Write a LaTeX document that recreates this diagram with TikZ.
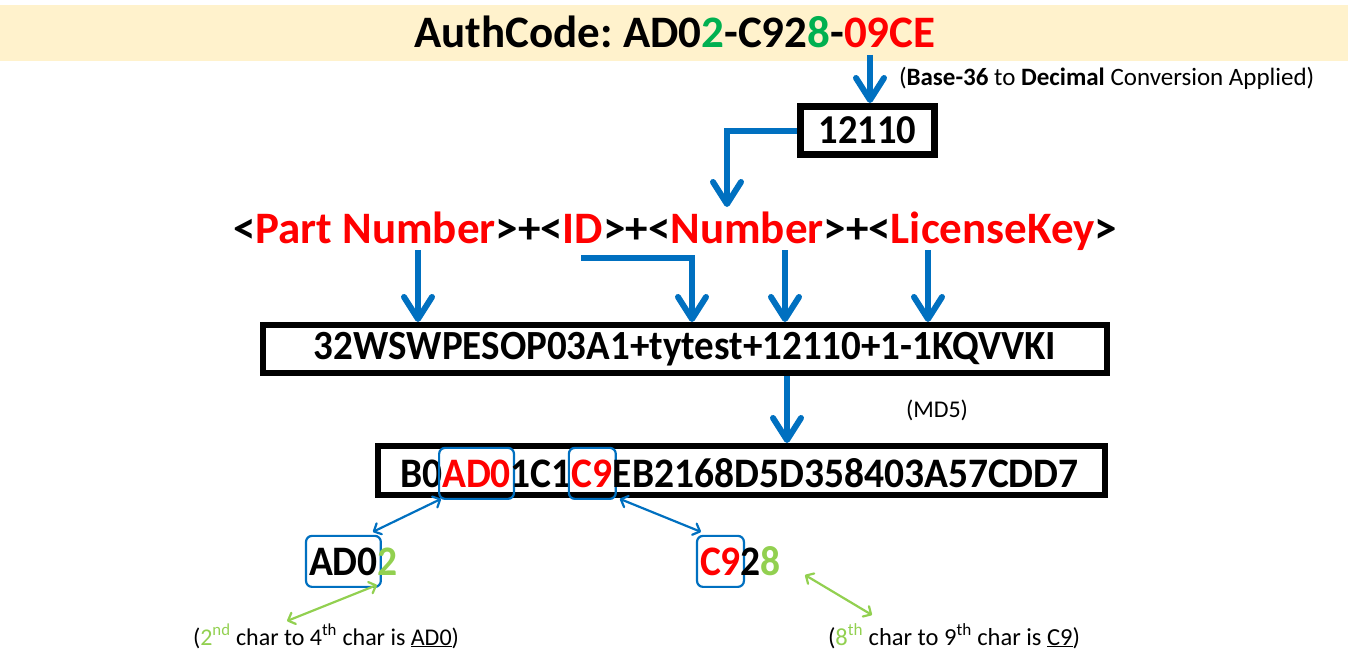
\documentclass[tikz,border=0pt]{standalone}
\usepackage{fontspec}
\setmainfont{Carlito}
\newfontfamily\condfont[FakeStretch=0.94]{Carlito}
\usetikzlibrary{arrows.meta,calc}
\definecolor{ablue}{HTML}{0070C0}
\definecolor{ared}{HTML}{FF0000}
\definecolor{agreen}{HTML}{00B050}
\definecolor{lgreen}{HTML}{92D050}
\definecolor{banner}{HTML}{FFF2CC}
\frenchspacing
\begin{document}
\begin{tikzpicture}[x=1pt,y=-1pt,
  big/.style={draw=ablue, line width=6pt, -{Straight Barb[length=22pt,width=28pt,round]}},
  thinb/.style={draw=ablue, line width=2.2pt, {Straight Barb[length=6pt,width=12pt,round]}-{Straight Barb[length=6pt,width=12pt,round]}},
  thing/.style={draw=lgreen, line width=2.2pt, {Straight Barb[length=6pt,width=12pt,round]}-{Straight Barb[length=6pt,width=12pt,round]}},
  bbox/.style={draw=black, line width=6pt, fill=white, inner sep=0pt},
  ftxt/.style={inner sep=0pt, outer sep=0pt, anchor=base west, font={\fontsize{45}{54}\selectfont\bfseries}},
  mtxt/.style={inner sep=0pt, outer sep=0pt, anchor=base west, font={\condfont\fontsize{42}{50}\selectfont\bfseries}},
  hl/.style={mtxt, draw=ablue, line width=2.2pt, rounded corners=6pt, inner xsep=3pt, minimum height=51pt},
  stxt/.style={inner sep=0pt, outer sep=0pt, anchor=base west, font={\fontsize{24}{29}\selectfont}}]
\useasboundingbox (0,0) rectangle (1348,669);
\fill[banner] (0,5) rectangle (1348,61);
\node[ftxt, anchor=base] (title) at (675,48) {AuthCode: AD0\textcolor{agreen}{2}-C92\textcolor{agreen}{8}-\textcolor{ared}{09CE}};

% 12110 box
\node[bbox, line width=7pt, minimum width=134pt, minimum height=48pt, font={\condfont\fontsize{41}{49}\selectfont\bfseries}] (dec) at (867.5,130.5) {12110};
\coordinate (t1) at (870,55);
\draw[big] (t1) -- (t1 |- dec.north);
\node[stxt, font={\fontsize{25}{30}\selectfont}] (conv) at (899,85) {(\textbf{Base-36} to \textbf{Decimal} Conversion Applied)};
\coordinate (f1) at (727,207);
\draw[big] (dec.west) -| (f1);

% formula
\node[ftxt] (f0) at (233,243) {<};
\node[ftxt, text=ared] (fpn) at (f0.base east) {Part Number};
\node[ftxt] (f2) at (fpn.base east) {>+<};
\node[ftxt, text=ared] (fid) at (f2.base east) {ID};
\node[ftxt] (f4) at (fid.base east) {>+<};
\node[ftxt, text=ared] (fnum) at (f4.base east) {Number};
\node[ftxt] (f6) at (fnum.base east) {>+<};
\node[ftxt, text=ared] (flk) at (f6.base east) {LicenseKey};
\node[ftxt] (f8) at (flk.base east) {>};

% box 2
\node[bbox, minimum width=844pt, minimum height=48pt, font={\condfont\fontsize{41.5}{50}\selectfont\bfseries}] (b2) at (685,349) {32WSWPESOP03A1+tytest+12110+1-1KQVVKI};
\coordinate (a1) at (418,250);
\coordinate (a2) at (581,258);
\coordinate (a2e) at (692,0);
\coordinate (a3) at (785,250);
\coordinate (a4) at (928,250);
\draw[big] (a1) -- (a1 |- b2.north);
\draw[big] (a2) -| (a2e |- b2.north);
\draw[big] (a3) -- (a3 |- b2.north);
\draw[big] (a4) -- (a4 |- b2.north);

% box 3
\node[bbox, minimum width=727pt, minimum height=49pt] (b3) at (741.5,470.5) {};
\coordinate (m1) at (787,0);
\draw[big] (m1 |- b2.south) -- (m1 |- b3.north);
\node[stxt, anchor=center] (md5) at (937,410) {(MD5)};

\node[mtxt] (h0) at (400,487) {B0};
\node[hl, text=ared] (hAD) at ([xshift=-3pt]h0.base east) {AD0};
\node[mtxt] (h2) at ([xshift=-3pt]hAD.base east) {1C1};
\node[hl, text=ared] (hC9) at ([xshift=-3pt]h2.base east) {C9};
\node[mtxt] (h4) at ([xshift=-3pt]hC9.base east) {EB2168D5D358403A57CDD7};

% bottom pieces
\node[hl] (bAD) at (306,575) {AD0};
\node[mtxt, text=lgreen] (bAD2) at ([xshift=-3pt]bAD.base east) {2};
\node[hl, text=ared] (bC9) at (697,575) {C9};
\node[mtxt] (bC92) at ([xshift=-3pt]bC9.base east) {2};
\node[mtxt, text=lgreen] (bC98) at (bC92.base east) {8};

\draw[thinb] ([xshift=2pt]hAD.south west) -- ([xshift=-8pt,yshift=4pt]bAD.north east);
\draw[thinb] ([xshift=4pt]hC9.south east) -- ([xshift=4pt,yshift=4pt]bC9.north west);

\node[stxt] (lab1) at (193,645) {(\textcolor{lgreen}{2\textsuperscript{nd}}{} char to 4\textsuperscript{th} char is \underline{AD0})};
\node[stxt, font={\fontsize{24.5}{29}\selectfont}] (lab2) at (828,645) {(\textcolor{lgreen}{8\textsuperscript{th}}{} char to 9\textsuperscript{th} char is \underline{C9})};

\coordinate (gA1) at (377,585);
\coordinate (gA2) at (287,621);
\coordinate (gB1) at (805,575);
\coordinate (gB2) at (872,615);
\draw[thing] (gA1) -- (gA2);
\draw[thing] (gB1) -- (gB2);
\end{tikzpicture}
\end{document}
